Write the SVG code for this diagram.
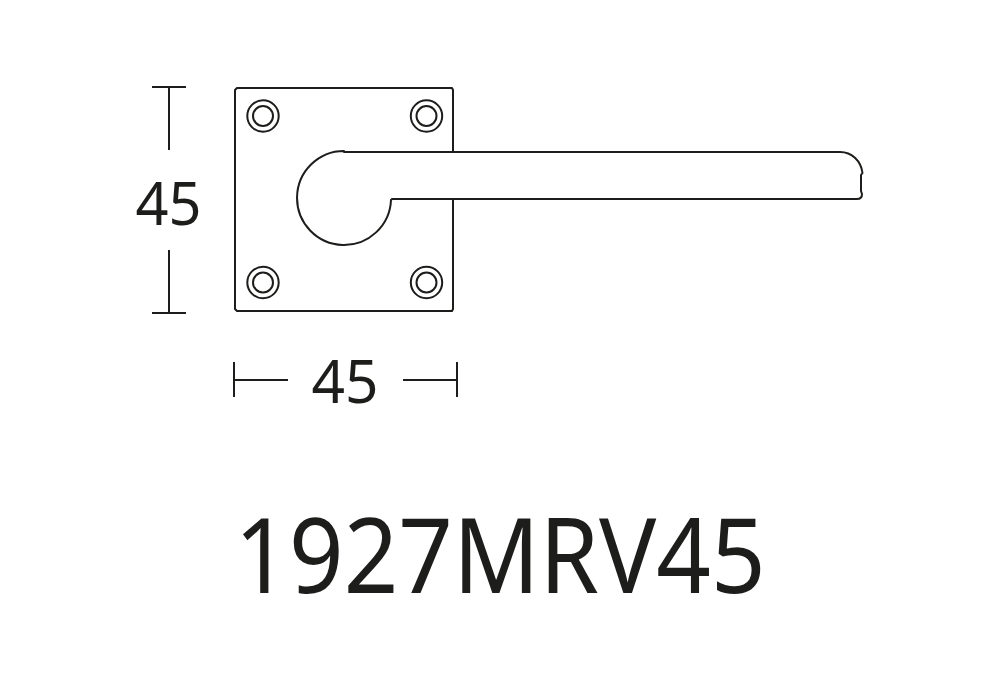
<svg xmlns="http://www.w3.org/2000/svg" width="1000" height="700" viewBox="0 0 1000 700">
<style>
.l{fill:none;stroke:#1d1d1b;stroke-width:2;stroke-linejoin:round}
.t{font-family:"Noto Sans","Open Sans",sans-serif;fill:#1d1d1b;text-anchor:middle}
.d{font-size:60px}
</style>
<rect width="1000" height="700" fill="#fff"/>
<g id="plate"><path class="l" d="M453 152V90L452 88H237L235 90V309L237 311H452L453 309V199"/></g>
<g id="screw-tl"><circle class="l" cx="263" cy="116" r="15.7"/><circle class="l" cx="263" cy="116" r="10"/></g>
<g id="screw-tr"><circle class="l" cx="426.500" cy="116" r="15.700"/><circle class="l" cx="426.500" cy="116" r="10"/></g>
<g id="screw-bl"><circle class="l" cx="263" cy="282.500" r="15.700"/><circle class="l" cx="263" cy="282.500" r="10"/></g>
<g id="screw-br"><circle class="l" cx="426.500" cy="282.500" r="15.700"/><circle class="l" cx="426.500" cy="282.500" r="10"/></g>
<g id="handle"><path class="l" d="M344 151V152H840C852 152 861 161 862.500 173L861 175V191L862 194Q862 199 857 199H392L391 200A47 47 0 1 1 344 151Z"/></g>
<g id="connectors">
<path class="l" d="M152 87H186M169 87V150M169 250V313M152 313H186"/>
<path class="l" d="M234 362V397M234 380H288M403 380H457M457 362V397"/>
</g>
<text id="dim-v" class="t d" x="168.500" y="224.500" textLength="66" lengthAdjust="spacingAndGlyphs">45</text>
<text id="dim-h" class="t d" x="345" y="403" textLength="67" lengthAdjust="spacingAndGlyphs">45</text>
<text id="model" class="t" x="500" y="592.500" font-size="104.500" textLength="531" lengthAdjust="spacingAndGlyphs">1927MRV45</text>
</svg>
